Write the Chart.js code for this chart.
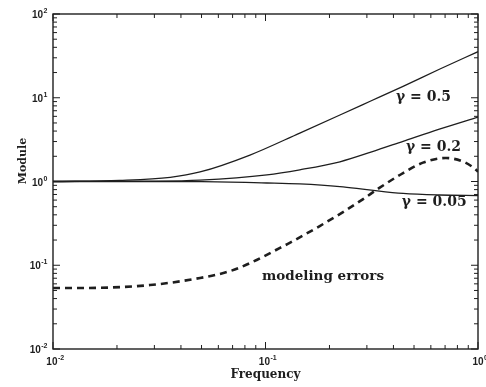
<!DOCTYPE html>
<html><head><meta charset="utf-8">
<style>html,body{margin:0;padding:0;background:#fff;overflow:hidden}</style>
<script src="https://cdn.jsdelivr.net/npm/chart.js@4/dist/chart.umd.min.js"></script>
</head><body>
<canvas id="c" width="486" height="387"></canvas>
<script>
// ---- data (frequency, module) ----
const gamma05Freq = [0.01, 0.0206, 0.0356, 0.0492, 0.0845, 0.145, 0.224, 0.311, 0.444, 0.658, 1.0];
const gamma05Mod  = [1.0, 1.03, 1.12, 1.30, 2.07, 3.79, 6.22, 9.08, 13.7, 21.9, 35.5];

const gamma02Freq = [0.01, 0.03, 0.0492, 0.1016, 0.145, 0.224, 0.316, 0.444, 0.658, 1.0];
const gamma02Mod  = [1.0, 1.01, 1.04, 1.20, 1.38, 1.72, 2.26, 3.02, 4.22, 5.89];

const gamma005Freq = [0.01, 0.05, 0.1016, 0.145, 0.224, 0.30, 0.444, 0.658, 1.0];
const gamma005Mod  = [1.0, 0.995, 0.96, 0.935, 0.87, 0.80, 0.72, 0.69, 0.68];

const errFreq = [0.01, 0.0134, 0.0286, 0.0492, 0.068, 0.0845, 0.117, 0.130, 0.180, 0.237, 0.288, 0.342, 0.444, 0.551, 0.706, 0.849, 0.957, 1.0];
const errMod  = [0.0535, 0.0535, 0.058, 0.0705, 0.085, 0.106, 0.161, 0.185, 0.294, 0.447, 0.617, 0.832, 1.26, 1.68, 1.91, 1.73, 1.45, 1.31];

const xTickValues = [0.01, 0.1, 1];
const xTickExps   = ['-2', '-1', '0'];
const yTickValues = [0.01, 0.1, 1, 10, 100];
const yTickExps   = ['-2', '-1', '0', '1', '2'];

const xTitle = 'Frequency';
const yTitle = 'Module';
const curveLabels = [
  {text: 'γ = 0.5', f: 0.411, v: 10.2},
  {text: 'γ = 0.2', f: 0.458, v: 2.58},
  {text: 'γ = 0.05', f: 0.438, v: 0.569},
  {text: 'modeling errors', f: 0.0963, v: 0.0724}
];

const toPts = (f, v) => f.map((x, i) => ({x, y: v[i]}));
const INK = '#1e1e1e';

const decor = {
  id: 'decor',
  afterDraw(chart) {
    const {ctx, chartArea: a, scales: {x, y}} = chart;
    ctx.save();
    ctx.strokeStyle = INK; ctx.fillStyle = INK;
    // frame
    ctx.lineWidth = 1.4;
    ctx.strokeRect(a.left, a.top, a.right - a.left, a.bottom - a.top);
    // inward ticks
    ctx.lineWidth = 1;
    const seg = (x1, y1, x2, y2) => { ctx.beginPath(); ctx.moveTo(x1, y1); ctx.lineTo(x2, y2); ctx.stroke(); };
    for (let d = -2; d <= 0; d++) for (let m = 1; m < 10; m++) {
      const v = m * Math.pow(10, d); if (v > 1) continue;
      const px = x.getPixelForValue(v); const L = m === 1 ? 7 : 4;
      seg(px, a.bottom, px, a.bottom - L); seg(px, a.top, px, a.top + L);
    }
    for (let d = -2; d <= 2; d++) for (let m = 1; m < 10; m++) {
      const v = m * Math.pow(10, d); if (v > 100) continue;
      const py = y.getPixelForValue(v); const L = m === 1 ? 7 : 4;
      seg(a.left, py, a.left + L, py); seg(a.right, py, a.right - L, py);
    }
    // tick labels 10^n
    const big = 'bold 10px "Liberation Sans", Arial, sans-serif';
    const sml = 'bold 7px "Liberation Sans", Arial, sans-serif';
    const pow = (exp, px, py, align) => {
      ctx.font = big; const w1 = ctx.measureText('10').width;
      ctx.font = sml; const w2 = ctx.measureText(exp).width;
      const W = w1 + w2; const x0 = align === 'right' ? px - W : px - W / 2;
      ctx.textAlign = 'left'; ctx.textBaseline = 'alphabetic';
      ctx.font = big; ctx.fillText('10', x0, py);
      ctx.font = sml; ctx.fillText(exp, x0 + w1 + 0.5, py - 5);
    };
    yTickValues.forEach((v, i) => pow(yTickExps[i], a.left - 6, y.getPixelForValue(v) + 4, 'right'));
    xTickValues.forEach((v, i) => pow(xTickExps[i], x.getPixelForValue(v) + 2, a.bottom + 16, 'center'));
    // axis titles
    ctx.font = 'bold 12px "DejaVu Serif", serif';
    ctx.textAlign = 'center'; ctx.textBaseline = 'alphabetic';
    ctx.fillText(xTitle, (a.left + a.right) / 2, a.bottom + 29);
    ctx.save();
    ctx.translate(26, 161); ctx.rotate(-Math.PI / 2);
    ctx.font = 'bold 11px "DejaVu Serif", serif';
    ctx.fillText(yTitle, 0, 0);
    ctx.restore();
    // curve annotations
    ctx.textAlign = 'left'; ctx.textBaseline = 'middle';
    curveLabels.forEach(l => {
      ctx.font = l.text.startsWith('γ') ? 'bold 14px "DejaVu Serif", serif' : 'bold 13.5px "DejaVu Serif", serif';
      ctx.fillText(l.text, x.getPixelForValue(l.f), y.getPixelForValue(l.v));
    });
    ctx.restore();
  }
};

const lineDs = (f, v, extra) => Object.assign({
  data: toPts(f, v), borderColor: INK, borderWidth: 1.3, pointRadius: 0,
  cubicInterpolationMode: 'monotone', fill: false
}, extra || {});

new Chart(document.getElementById('c'), {
  type: 'line',
  data: {
    datasets: [
      lineDs(gamma05Freq, gamma05Mod, {label: 'γ = 0.5'}),
      lineDs(gamma02Freq, gamma02Mod, {label: 'γ = 0.2'}),
      lineDs(gamma005Freq, gamma005Mod, {label: 'γ = 0.05'}),
      lineDs(errFreq, errMod, {label: 'modeling errors', borderWidth: 2.6, borderDash: [7, 5]})
    ]
  },
  options: {
    responsive: false, animation: false,
    layout: {padding: {left: 53, right: 8, top: 14, bottom: 38}},
    plugins: {legend: {display: false}, tooltip: {enabled: false}},
    scales: {
      x: {type: 'logarithmic', min: 0.01, max: 1, display: false},
      y: {type: 'logarithmic', min: 0.01, max: 100, display: false}
    }
  },
  plugins: [decor]
});
</script>
</body></html>
